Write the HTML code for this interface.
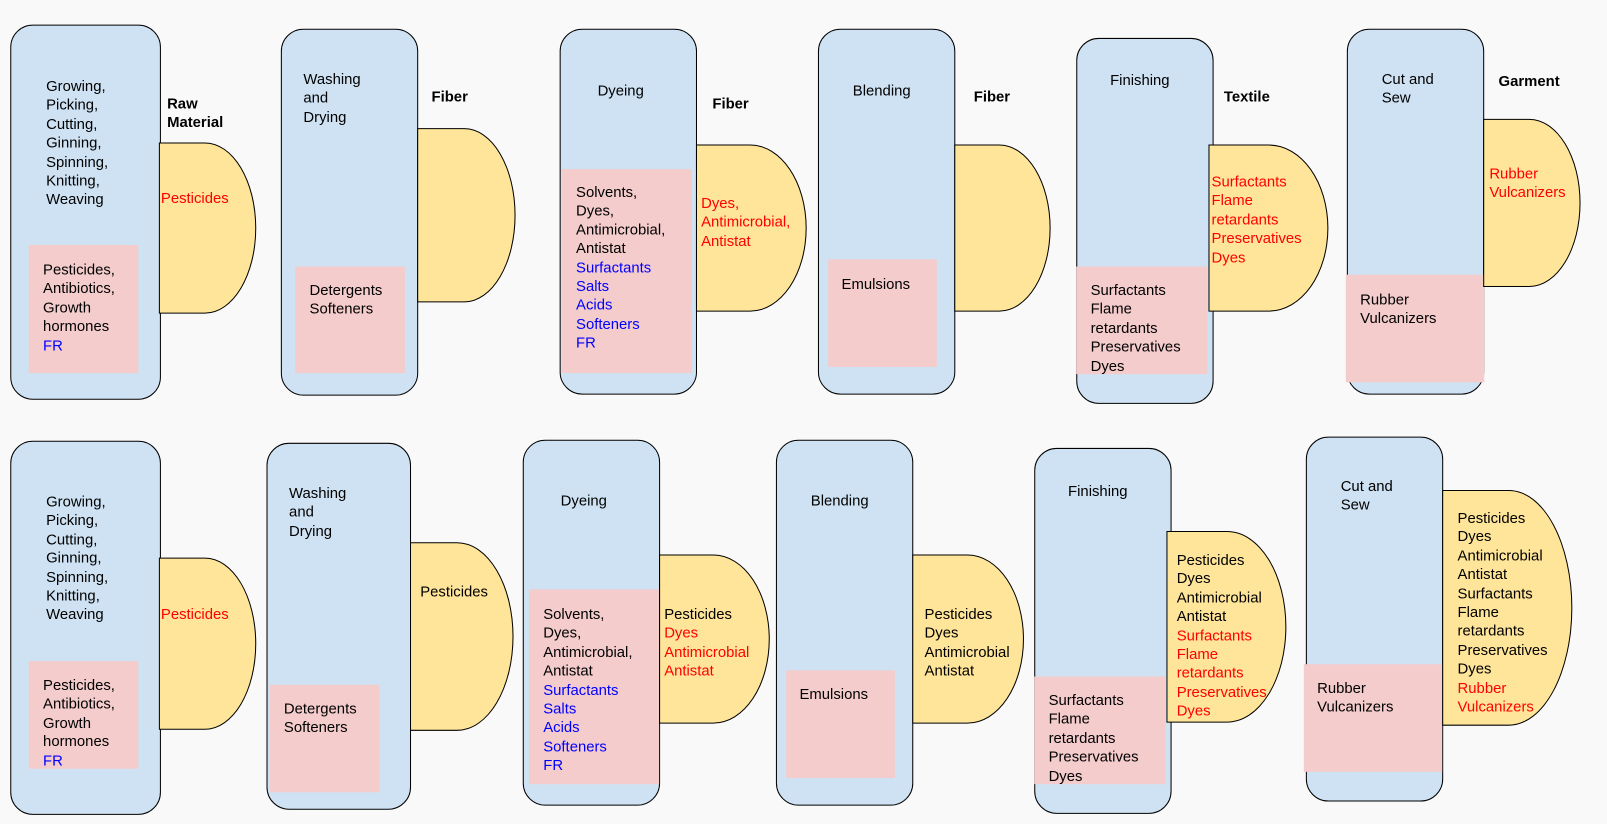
<!DOCTYPE html>
<html><head><meta charset="utf-8"><style>
html,body{margin:0;padding:0;}
body{width:1607px;height:824px;background:#f9f9f9;overflow:hidden;font-family:"Liberation Sans",Arial,sans-serif;}
#w{position:absolute;left:0;top:0;width:1568px;height:804px;transform:scale(1.025);transform-origin:0 0;}
.b{position:absolute;background:#cfe2f3;border:1.5px solid #000;border-radius:22px;box-sizing:border-box;}
.p{position:absolute;background:#f4cccc;}
.d{position:absolute;background:#ffe599;border:1.5px solid #000;box-sizing:border-box;}
.t{position:absolute;font-size:14.5px;line-height:18.4px;color:#000;white-space:nowrap;margin-top:1px;}
.l{position:absolute;font-size:14.5px;line-height:18px;font-weight:bold;color:#000;white-space:nowrap;margin-top:1px;}
.r{color:#f00}.u{color:#00f}
</style></head><body><div id="w">
<!-- top row -->
<div class="b" style="left:10px;top:24px;width:147px;height:366px"></div>
<div class="p" style="left:28px;top:239px;width:107px;height:125px"></div>
<div class="d" style="left:155px;top:139px;width:95px;height:167px;border-radius:0 50px 50px 0/0 50% 50% 0"></div>
<div class="t" style="left:45px;top:75px">Growing,<br>Picking,<br>Cutting,<br>Ginning,<br>Spinning,<br>Knitting,<br>Weaving</div>
<div class="t" style="left:42px;top:254px">Pesticides,<br>Antibiotics,<br>Growth<br>hormones<br><span class="u">FR</span></div>
<div class="t r" style="left:157px;top:184px">Pesticides</div>
<div class="l" style="left:163px;top:92px">Raw<br>Material</div>

<div class="b" style="left:274px;top:28px;width:134px;height:358px"></div>
<div class="p" style="left:288px;top:260px;width:107px;height:104px"></div>
<div class="d" style="left:407px;top:125px;width:96px;height:170px;border-radius:0 50px 50px 0/0 50% 50% 0"></div>
<div class="t" style="left:296px;top:68px">Washing<br>and<br>Drying</div>
<div class="t" style="left:302px;top:274px">Detergents<br>Softeners</div>
<div class="l" style="left:421px;top:85px">Fiber</div>

<div class="b" style="left:546px;top:28px;width:134px;height:357px"></div>
<div class="p" style="left:548px;top:165px;width:127px;height:199px"></div>
<div class="d" style="left:679px;top:141px;width:108px;height:163px;border-radius:0 55px 55px 0/0 50% 50% 0"></div>
<div class="t" style="left:583px;top:79px">Dyeing</div>
<div class="t" style="left:562px;top:178px">Solvents,<br>Dyes,<br>Antimicrobial,<br>Antistat<br><span class="u">Surfactants<br>Salts<br>Acids<br>Softeners<br>FR</span></div>
<div class="t r" style="left:684px;top:189px">Dyes,<br>Antimicrobial,<br>Antistat</div>
<div class="l" style="left:695px;top:92px">Fiber</div>

<div class="b" style="left:798px;top:28px;width:134px;height:357px"></div>
<div class="p" style="left:808px;top:253px;width:106px;height:105px"></div>
<div class="d" style="left:931px;top:141px;width:94px;height:163px;border-radius:0 50px 50px 0/0 50% 50% 0"></div>
<div class="t" style="left:832px;top:79px">Blending</div>
<div class="t" style="left:821px;top:268px">Emulsions</div>
<div class="l" style="left:950px;top:85px">Fiber</div>

<div class="b" style="left:1050px;top:37px;width:134px;height:357px"></div>
<div class="p" style="left:1050px;top:260px;width:128px;height:105px"></div>
<div class="d" style="left:1179px;top:141px;width:117px;height:163px;border-radius:0 58px 58px 0/0 50% 50% 0"></div>
<div class="t" style="left:1083px;top:69px">Finishing</div>
<div class="t" style="left:1064px;top:274px">Surfactants<br>Flame<br>retardants<br>Preservatives<br>Dyes</div>
<div class="t r" style="left:1182px;top:168px">Surfactants<br>Flame<br>retardants<br>Preservatives<br>Dyes</div>
<div class="l" style="left:1194px;top:85px">Textile</div>

<div class="b" style="left:1314px;top:28px;width:134px;height:357px"></div>
<div class="p" style="left:1313px;top:268px;width:135px;height:105px"></div>
<div class="d" style="left:1447px;top:116px;width:95px;height:164px;border-radius:0 50px 50px 0/0 50% 50% 0"></div>
<div class="t" style="left:1348px;top:68px">Cut and<br>Sew</div>
<div class="t" style="left:1327px;top:283px">Rubber<br>Vulcanizers</div>
<div class="t r" style="left:1453px;top:160px">Rubber<br>Vulcanizers</div>
<div class="l" style="left:1462px;top:70px">Garment</div>

<!-- bottom row -->
<div class="b" style="left:10px;top:430px;width:147px;height:365px"></div>
<div class="p" style="left:28px;top:645px;width:107px;height:105px"></div>
<div class="d" style="left:155px;top:544px;width:95px;height:168px;border-radius:0 50px 50px 0/0 50% 50% 0"></div>
<div class="t" style="left:45px;top:480px">Growing,<br>Picking,<br>Cutting,<br>Ginning,<br>Spinning,<br>Knitting,<br>Weaving</div>
<div class="t" style="left:42px;top:659px">Pesticides,<br>Antibiotics,<br>Growth<br>hormones<br><span class="u">FR</span></div>
<div class="t r" style="left:157px;top:590px">Pesticides</div>

<div class="b" style="left:260px;top:432px;width:141px;height:358px"></div>
<div class="p" style="left:263px;top:668px;width:107px;height:105px"></div>
<div class="d" style="left:400px;top:529px;width:101px;height:184px;border-radius:0 55px 55px 0/0 50% 50% 0"></div>
<div class="t" style="left:282px;top:472px">Washing<br>and<br>Drying</div>
<div class="t" style="left:277px;top:682px">Detergents<br>Softeners</div>
<div class="t" style="left:410px;top:568px">Pesticides</div>

<div class="b" style="left:510px;top:429px;width:134px;height:357px"></div>
<div class="p" style="left:516px;top:575px;width:127px;height:190px"></div>
<div class="d" style="left:643px;top:541px;width:108px;height:165px;border-radius:0 55px 55px 0/0 50% 50% 0"></div>
<div class="t" style="left:547px;top:479px">Dyeing</div>
<div class="t" style="left:530px;top:590px">Solvents,<br>Dyes,<br>Antimicrobial,<br>Antistat<br><span class="u">Surfactants<br>Salts<br>Acids<br>Softeners<br>FR</span></div>
<div class="t" style="left:648px;top:590px">Pesticides<br><span class="r">Dyes<br>Antimicrobial<br>Antistat</span></div>

<div class="b" style="left:757px;top:429px;width:134px;height:357px"></div>
<div class="p" style="left:767px;top:654px;width:106px;height:105px"></div>
<div class="d" style="left:890px;top:541px;width:109px;height:165px;border-radius:0 55px 55px 0/0 50% 50% 0"></div>
<div class="t" style="left:791px;top:479px">Blending</div>
<div class="t" style="left:780px;top:668px">Emulsions</div>
<div class="t" style="left:902px;top:590px">Pesticides<br>Dyes<br>Antimicrobial<br>Antistat</div>

<div class="b" style="left:1009px;top:437px;width:134px;height:357px"></div>
<div class="p" style="left:1009px;top:660px;width:128px;height:105px"></div>
<div class="d" style="left:1138px;top:518px;width:117px;height:187px;border-radius:0 58px 58px 0/0 50% 50% 0"></div>
<div class="t" style="left:1042px;top:470px">Finishing</div>
<div class="t" style="left:1023px;top:674px">Surfactants<br>Flame<br>retardants<br>Preservatives<br>Dyes</div>
<div class="t" style="left:1148px;top:537px">Pesticides<br>Dyes<br>Antimicrobial<br>Antistat<br><span class="r">Surfactants<br>Flame<br>retardants<br>Preservatives<br>Dyes</span></div>

<div class="b" style="left:1274px;top:426px;width:134px;height:356px"></div>
<div class="p" style="left:1272px;top:648px;width:135px;height:105px"></div>
<div class="d" style="left:1407px;top:478px;width:127px;height:230px;border-radius:0 62px 62px 0/0 50% 50% 0"></div>
<div class="t" style="left:1308px;top:465px">Cut and<br>Sew</div>
<div class="t" style="left:1285px;top:662px">Rubber<br>Vulcanizers</div>
<div class="t" style="left:1422px;top:496px">Pesticides<br>Dyes<br>Antimicrobial<br>Antistat<br>Surfactants<br>Flame<br>retardants<br>Preservatives<br>Dyes<br><span class="r">Rubber<br>Vulcanizers</span></div>
</div></body></html>
